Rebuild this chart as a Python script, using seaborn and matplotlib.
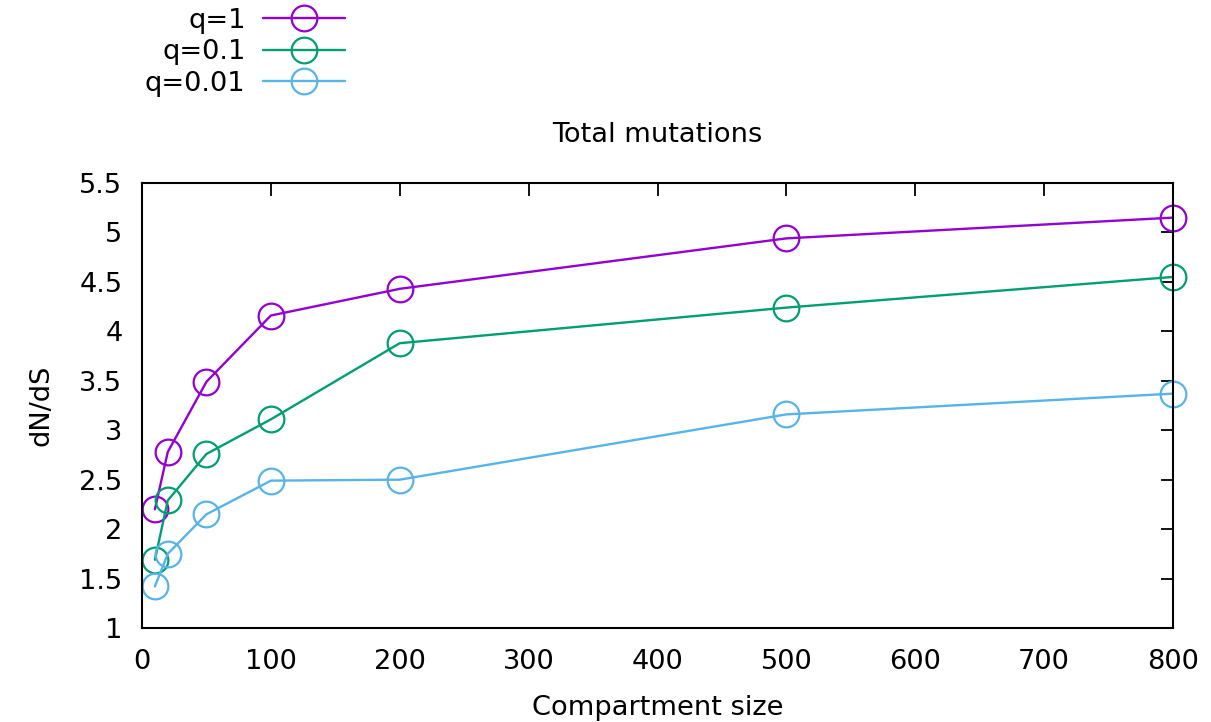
import matplotlib
matplotlib.use("Agg")
import matplotlib.pyplot as plt
import seaborn as sns
import pandas as pd

sizes = [10, 20, 50, 100, 200, 500, 800]
q1 = [2.20, 2.78, 3.49, 4.16, 4.43, 4.94, 5.15]
q01 = [1.69, 2.29, 2.76, 3.11, 3.88, 4.24, 4.55]
q001 = [1.42, 1.75, 2.15, 2.49, 2.50, 3.16, 3.37]
labels = ["q=1", "q=0.1", "q=0.01"]
colors = ["#9400d3", "#009e73", "#56b4e9"]
xticks = [0, 100, 200, 300, 400, 500, 600, 700, 800]
yticks = [1, 1.5, 2, 2.5, 3, 3.5, 4, 4.5, 5, 5.5]

FS = 19.6

sns.set_theme(style="white")
plt.rcParams['font.family'] = ['DejaVu Sans']
plt.rcParams['text.color'] = 'black'
plt.rcParams['axes.labelcolor'] = 'black'

fig = plt.figure(figsize=(12.11, 7.22), dpi=100)
ax = fig.add_axes([142/1211, 1-628/722, (1173-142)/1211, (628-183)/722])

df = pd.DataFrame({"size": sizes * 3,
                   "dnds": q1 + q01 + q001,
                   "q": [labels[0]]*7 + [labels[1]]*7 + [labels[2]]*7})

for lab, col in zip(labels, colors):
    sub = df[df["q"] == lab]
    sns.lineplot(data=sub, x="size", y="dnds", ax=ax, color=col, lw=1.7,
                 marker="o", markersize=18.5, markerfacecolor="none",
                 markeredgecolor=col, markeredgewidth=1.6, label=lab, clip_on=False)

ax.set_xlim(0, 800)
ax.set_ylim(1, 5.5)
ax.set_xticks(xticks)
ax.set_yticks(yticks)
ax.set_yticklabels([f"{v:g}" for v in yticks])
ax.tick_params(direction="in", length=9, width=1.3, labelsize=FS, top=True, right=True,
               colors="black")
ax.tick_params(axis="x", pad=15)
ax.tick_params(axis="y", pad=14)
for s in ax.spines.values():
    s.set_color("black")
    s.set_linewidth(1.5)
    s.set_visible(True)

ax.set_xlabel("Compartment size", fontsize=FS, color="black")
ax.set_ylabel("dN/dS", fontsize=FS, color="black")
ax.xaxis.set_label_coords(0.5, -(708-628)/445)
ax.xaxis.label.set_va("center")
ax.yaxis.set_label_coords(-(142-42)/1031, 0.5)
ax.yaxis.label.set_va("center")

fig.text(657/1211, 1-135/722, "Total mutations", fontsize=FS, ha="center", va="center",
         color="black")

leg = ax.legend(loc="upper left", bbox_to_anchor=(145/1211, 1-8/722),
                bbox_transform=fig.transFigure, frameon=False, markerfirst=False,
                fontsize=FS, handlelength=3.0, labelspacing=0.2, handletextpad=0.65,
                borderaxespad=0, borderpad=0)
for t in leg.get_texts():
    t.set_ha("right")
    t.set_color("black")

fig.savefig("out.png", dpi=100)
